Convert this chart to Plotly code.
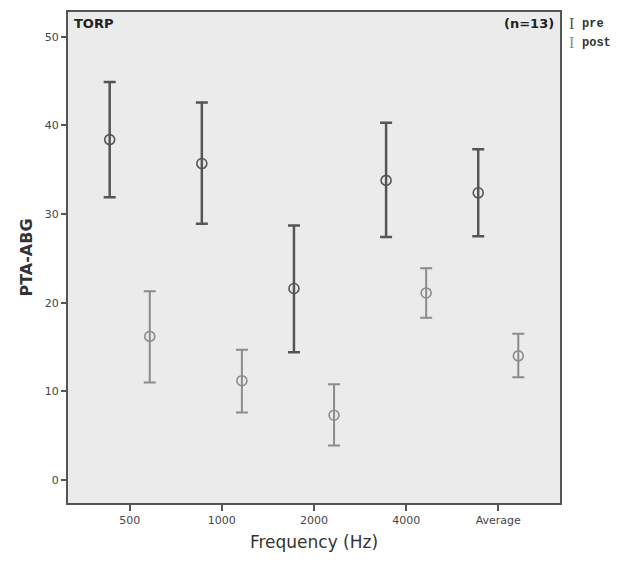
import plotly.graph_objects as go

freqs = ["500", "1000", "2000", "4000", "Average"]

pre_mean = [38.4, 35.7, 21.6, 33.8, 32.4]
pre_low = [31.9, 28.9, 14.4, 27.4, 27.5]
pre_high = [44.9, 42.6, 28.7, 40.3, 37.3]

post_mean = [16.2, 11.2, 7.3, 21.1, 14.0]
post_low = [11.0, 7.6, 3.9, 18.3, 11.6]
post_high = [21.3, 14.7, 10.8, 23.9, 16.5]

pre_col = "#555555"
post_col = "#8c8c8c"


def err(mean, low, high):
    return dict(type="data", symmetric=False,
                array=[h - m for h, m in zip(high, mean)],
                arrayminus=[m - l for m, l in zip(mean, low)])


fig = go.Figure()
fig.add_trace(go.Scatter(
    name="pre", x=freqs, y=pre_mean, mode="markers",
    marker=dict(symbol="circle-open", size=10, color=pre_col, line=dict(width=1.6)),
    error_y=dict(**err(pre_mean, pre_low, pre_high), color=pre_col, thickness=2.5, width=6)))
fig.add_trace(go.Scatter(
    name="post", x=freqs, y=post_mean, mode="markers",
    marker=dict(symbol="circle-open", size=10, color=post_col, line=dict(width=1.6)),
    error_y=dict(**err(post_mean, post_low, post_high), color=post_col, thickness=2, width=6)))

# page has an 8px body margin, so the figure is a bit smaller than the window
fig.update_layout(
    width=617, height=555,
    paper_bgcolor="white", plot_bgcolor="#ebebeb",
    showlegend=False,
    scattermode="group", scattergap=0.13,
    margin=dict(l=60, r=65, t=2, b=60),
    font=dict(family="DejaVu Sans", color="#333333"),
    xaxis=dict(
        title=dict(text="Frequency (Hz)", font=dict(size=17, color="#333"), standoff=10),
        range=[-0.67, 4.67], showgrid=False, zeroline=False,
        showline=True, mirror=True, linecolor="#555", linewidth=2,
        ticks="outside", ticklen=6, tickwidth=2, tickcolor="#555",
        tickfont=dict(size=11, color="#444")),
    yaxis=dict(
        title=dict(text="<b>PTA-ABG</b>", font=dict(size=16, color="#333"), standoff=8),
        range=[-2.6, 52.8], tickvals=[0, 10, 20, 30, 40, 50], showgrid=False, zeroline=False,
        showline=True, mirror=True, linecolor="#555", linewidth=2,
        ticks="outside", ticklen=5, tickwidth=2, tickcolor="#555",
        tickfont=dict(size=11, color="#444")),
)

fig.add_annotation(text="<b>TORP</b>", x=0, y=1, xref="paper", yref="paper",
                   xanchor="left", yanchor="top", xshift=4, yshift=-2,
                   showarrow=False, font=dict(size=13, color="#222"))
fig.add_annotation(text="<b>(n=13)</b>", x=1, y=1, xref="paper", yref="paper",
                   xanchor="right", yanchor="top", xshift=-4, yshift=-2,
                   showarrow=False, font=dict(size=13, color="#222"))

# legend drawn as text beside the frame
for i, (lab, col) in enumerate([("pre", pre_col), ("post", post_col)]):
    fig.add_annotation(text="I", x=1, y=1, xref="paper", yref="paper",
                       xanchor="left", yanchor="top", xshift=7, yshift=-1 - 19 * i,
                       showarrow=False, font=dict(family="Liberation Serif", size=16, color=col))
    fig.add_annotation(text="<b>" + lab + "</b>", x=1, y=1, xref="paper", yref="paper",
                       xanchor="left", yanchor="top", xshift=20, yshift=-3 - 19 * i,
                       showarrow=False, font=dict(family="Liberation Mono", size=12, color="#333"))

fig.write_html("out.html")
